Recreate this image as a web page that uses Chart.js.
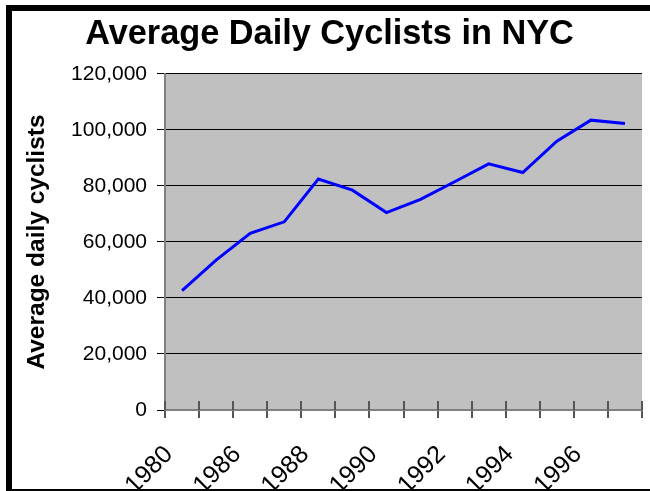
<!DOCTYPE html>
<html>
<head>
<meta charset="utf-8">
<script src="https://cdn.jsdelivr.net/npm/chart.js@4.4.1/dist/chart.umd.min.js"></script>
<style>
  html, body { margin: 0; padding: 0; background: #ffffff; overflow: hidden; }
  #wrap { position: relative; width: 650px; height: 491px; overflow: hidden; background: #ffffff; }
  #frame { position: absolute; left: 6px; top: 5px; width: 700px; height: 478px; border: 6px solid #000; pointer-events: none; z-index: 2; }
  canvas { position: absolute; left: 0; top: 0; z-index: 1; }
</style>
</head>
<body>
<div id="wrap">
  <canvas id="c" width="650" height="491"></canvas>
  <div id="frame"></div>
</div>
<script>
const chartTitle = 'Average Daily Cyclists in NYC';
const yAxisTitle = 'Average daily cyclists';
const categories = ['1980', '1985', '1986', '1987', '1988', '1989', '1990', '1991', '1992', '1993', '1994', '1995', '1996', '1997'];
const cyclists = [42600, 53500, 63100, 67200, 82500, 78500, 70500, 75200, 81500, 87900, 84800, 96000, 103500, 102300];
const yTicks = [0, 20000, 40000, 60000, 80000, 100000, 120000];

const FONT = "'Liberation Sans', Arial, Helvetica, sans-serif";

const plotBg = {
  id: 'plotBg',
  beforeDraw(chart) {
    const { ctx, chartArea: a } = chart;
    ctx.save();
    ctx.fillStyle = '#C0C0C0';
    ctx.fillRect(a.left, a.top, a.right - a.left, a.bottom - a.top);
    ctx.restore();
  }
};

const innerTicks = {
  id: 'innerTicks',
  afterDraw(chart) {
    const { ctx } = chart;
    const xs = chart.scales.x;
    const y0 = xs.top;
    ctx.save();
    ctx.strokeStyle = '#555555';
    ctx.lineWidth = 2;
    for (let i = 0; i <= categories.length; i++) {
      const px = Math.round(xs.getPixelForValue(i - 0.5));
      ctx.beginPath();
      ctx.moveTo(px, y0 - 9);
      ctx.lineTo(px, y0);
      ctx.stroke();
    }
    ctx.restore();
  }
};

new Chart(document.getElementById('c'), {
  type: 'line',
  data: {
    labels: categories,
    datasets: [{
      data: cyclists,
      borderColor: '#0000FF',
      borderWidth: 3,
      pointRadius: 0,
      tension: 0,
      fill: false
    }]
  },
  options: {
    responsive: false,
    animation: false,
    devicePixelRatio: 1,
    layout: { padding: { left: 17, right: 8, top: 0, bottom: 0 } },
    plugins: {
      legend: { display: false },
      tooltip: { enabled: false },
      title: {
        display: true,
        text: chartTitle,
        color: '#000',
        font: { family: FONT, size: 34.3, weight: 'bold', lineHeight: 1.2 },
        padding: { top: 14.3, bottom: 18.5 }
      }
    },
    scales: {
      x: {
        type: 'category',
        offset: true,
        grid: {
          display: true,
          offset: true,
          drawOnChartArea: false,
          drawTicks: true,
          tickLength: 8,
          color: '#555555',
          lineWidth: 2
        },
        border: { display: true, color: '#808080', width: 2 },
        ticks: {
          autoSkip: false,
          minRotation: 45,
          maxRotation: 45,
          padding: 22,
          labelOffset: -13,
          color: '#000',
          font: { family: FONT, size: 25 },
          callback: function(val, i) { return i % 2 === 0 ? categories[i] : ''; }
        },
        afterFit(scale) {
          scale.height = 81;
          scale.paddingLeft = 0;
          scale.paddingRight = 0;
        }
      },
      y: {
        min: 0,
        max: 120000,
        afterBuildTicks(scale) { scale.ticks = yTicks.map(v => ({ value: v })); },
        grid: {
          color: '#000000',
          lineWidth: 1,
          tickLength: 8,
          tickColor: '#000000'
        },
        border: { display: true, color: '#808080', width: 2 },
        ticks: {
          padding: 10,
          color: '#000',
          font: { family: FONT, size: 21 },
          callback: function(v) { return Number(v).toLocaleString('en-US'); }
        },
        title: {
          display: true,
          text: yAxisTitle,
          color: '#000',
          font: { family: FONT, size: 24.5, weight: 'bold', lineHeight: 1.2 },
          padding: { top: 5.7, bottom: 0 }
        },
        afterFit(scale) {
          scale.width = 148;
          scale.paddingTop = 0;
          scale.paddingBottom = 0;
        }
      }
    }
  },
  plugins: [plotBg, innerTicks]
});
</script>
</body>
</html>
